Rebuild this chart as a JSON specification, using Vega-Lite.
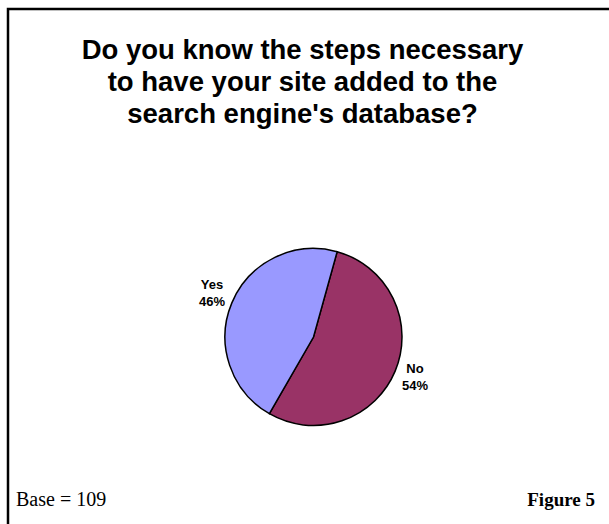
{
  "$schema": "https://vega.github.io/schema/vega-lite/v6.json",
  "width": 611,
  "height": 656,
  "autosize": {"type": "none"},
  "padding": {"left": 8, "top": 9, "right": -10, "bottom": -141},
  "background": "white",
  "config": {"view": {"stroke": "black", "strokeWidth": 2.5}},
  "title": {
    "text": ["Do you know the steps necessary", "to have your site added to the", "search engine's database?"],
    "frame": "group",
    "anchor": "middle",
    "orient": "top",
    "baseline": "top",
    "offset": -119,
    "dx": -11,
    "font": "Liberation Sans",
    "fontSize": 27.5,
    "fontWeight": "bold",
    "lineHeight": 32,
    "color": "black"
  },
  "data": {
    "values": [
      {"answer": "No", "percent": 54, "order": 1},
      {"answer": "Yes", "percent": 46, "order": 2}
    ]
  },
  "layer": [
    {
      "mark": {"type": "arc", "outerRadius": 88.5, "stroke": "black", "strokeWidth": 1.5},
      "encoding": {
        "theta": {"field": "percent", "type": "quantitative", "stack": true, "scale": {"range": [0.2705, 6.5537]}},
        "order": {"field": "order", "type": "quantitative"},
        "color": {
          "field": "answer",
          "type": "nominal",
          "scale": {"domain": ["No", "Yes"], "range": ["#993366", "#9999FF"]},
          "legend": null
        }
      }
    },
    {
      "transform": [{"calculate": "datum.answer + '\\n' + datum.percent + '%'", "as": "label"}],
      "mark": {
        "type": "text",
        "radius": 110,
        "dy": -10,
        "font": "Liberation Sans",
        "fontWeight": "bold",
        "fontSize": 13,
        "lineBreak": "\n",
        "lineHeight": 17,
        "align": "center",
        "baseline": "middle",
        "color": "black"
      },
      "encoding": {
        "theta": {"field": "percent", "type": "quantitative", "stack": true},
        "order": {"field": "order", "type": "quantitative"},
        "text": {"field": "label"}
      }
    },
    {
      "data": {"values": [{"note": "Base = 109"}]},
      "mark": {"type": "text", "font": "Liberation Serif", "fontSize": 20, "align": "left", "baseline": "alphabetic", "color": "black"},
      "encoding": {"text": {"field": "note"}, "x": {"value": 8}, "y": {"value": 497}}
    },
    {
      "data": {"values": [{"note": "Figure 5"}]},
      "mark": {"type": "text", "font": "Liberation Serif", "fontSize": 19, "fontWeight": "bold", "align": "right", "baseline": "alphabetic", "color": "black"},
      "encoding": {"text": {"field": "note"}, "x": {"value": 587}, "y": {"value": 497}}
    }
  ]
}
